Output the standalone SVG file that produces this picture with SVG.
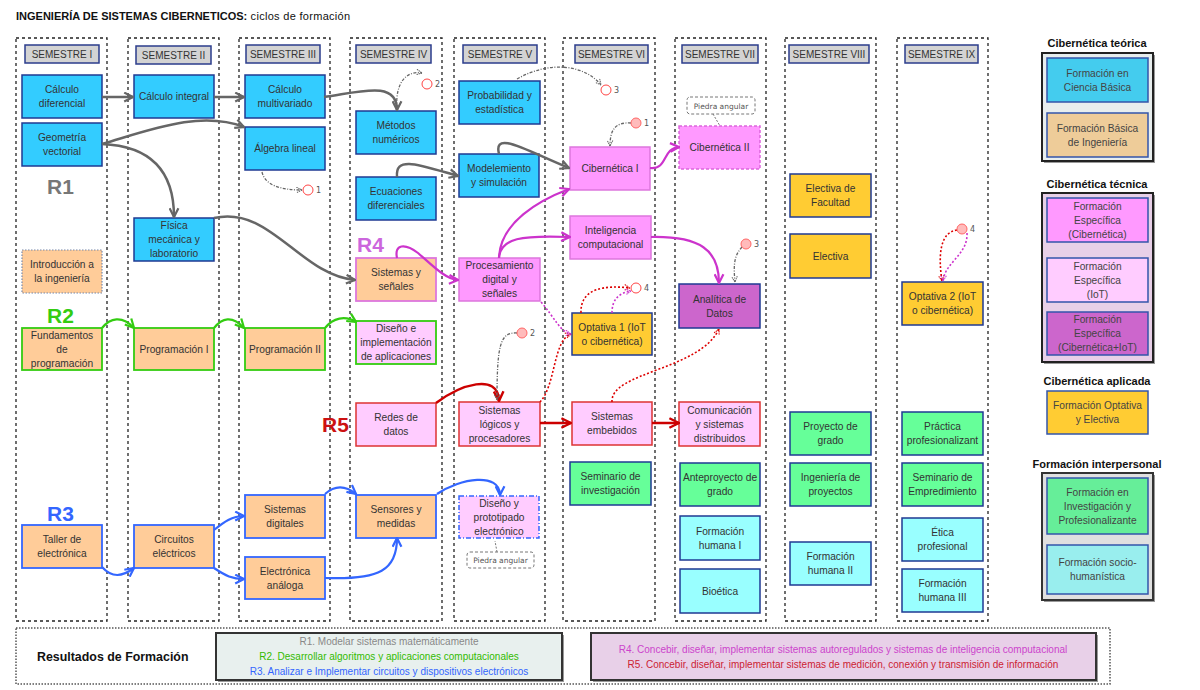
<svg xmlns="http://www.w3.org/2000/svg" width="1200" height="690" viewBox="0 0 1200 690">
<defs>
<style>
.col{fill:none;stroke:#222;stroke-width:1.3;stroke-dasharray:3 3}
.hdr{fill:#d3d3d3;stroke:#2b3d8c;stroke-width:1.5}
.t{font-family:"Liberation Sans",Arial,sans-serif;font-size:10.2px;fill:#333;text-anchor:middle}
.ht{font-family:"Liberation Sans",Arial,sans-serif;font-size:10px;fill:#333;text-anchor:middle}
.cy{fill:#33ccff;stroke:#1f3a93;stroke-width:1.5}
.mg{fill:#ff99ff;stroke:#dd77dd;stroke-width:1.5}
.lp{fill:#ffccff;stroke:#dd3333;stroke-width:1.5}
.pu{fill:#cc66cc;stroke:#1f3a93;stroke-width:1.5}
.ye{fill:#ffcc33;stroke:#1f3a93;stroke-width:1.5}
.gr{fill:#66ff99;stroke:#1f3a93;stroke-width:1.5}
.lc{fill:#99ffff;stroke:#1f3a93;stroke-width:1.5}
.R{font-family:"Liberation Sans",Arial,sans-serif;font-size:21px;font-weight:bold}
.cg{fill:none;stroke:#666;stroke-width:2.5}
.cgr{fill:none;stroke:#33cc11;stroke-width:2.2}
.cb{fill:none;stroke:#3366ff;stroke-width:2.2}
.cm{fill:none;stroke:#cc33cc;stroke-width:2.2}
.cr{fill:none;stroke:#cc0000;stroke-width:2.5}
.dg{fill:none;stroke:#666;stroke-width:1.3;stroke-dasharray:3 1.5 1 1.5}
.dr{fill:none;stroke:#dd0000;stroke-width:1.6;stroke-dasharray:2 2}
.dm{fill:none;stroke:#cc33cc;stroke-width:1.6;stroke-dasharray:2 2}
.ch{fill:#fff;stroke:#ff4444;stroke-width:1}
.cf{fill:#ffbbbb;stroke:#ff6666;stroke-width:1}
.cn{font-family:"DejaVu Sans",sans-serif;font-size:8px;fill:#555}
.call{fill:#fff;stroke:#777;stroke-width:1;stroke-dasharray:3 2}
.callt{font-family:"DejaVu Sans",sans-serif;font-size:7.5px;fill:#555;text-anchor:middle}
.lt{font-family:"Liberation Sans",Arial,sans-serif;font-size:11px;font-weight:bold;fill:#111;text-anchor:middle}
.lg{font-family:"Liberation Sans",Arial,sans-serif;font-size:10.2px;fill:#444;text-anchor:middle}
.lb{stroke:#3355aa;stroke-width:1.5}
</style>
<marker id="ag" viewBox="0 0 10 10" refX="9" refY="5" markerWidth="11" markerHeight="11" markerUnits="userSpaceOnUse" orient="auto"><path d="M1,1 L9,5 L1,9" fill="none" stroke="#666" stroke-width="2"/></marker>
<marker id="agr" viewBox="0 0 10 10" refX="9" refY="5" markerWidth="11" markerHeight="11" markerUnits="userSpaceOnUse" orient="auto"><path d="M1,1 L9,5 L1,9" fill="none" stroke="#33cc11" stroke-width="2"/></marker>
<marker id="ab" viewBox="0 0 10 10" refX="9" refY="5" markerWidth="11" markerHeight="11" markerUnits="userSpaceOnUse" orient="auto"><path d="M1,1 L9,5 L1,9" fill="none" stroke="#3366ff" stroke-width="2"/></marker>
<marker id="am" viewBox="0 0 10 10" refX="9" refY="5" markerWidth="11" markerHeight="11" markerUnits="userSpaceOnUse" orient="auto"><path d="M1,1 L9,5 L1,9" fill="none" stroke="#cc33cc" stroke-width="2"/></marker>
<marker id="ar" viewBox="0 0 10 10" refX="9" refY="5" markerWidth="12" markerHeight="12" markerUnits="userSpaceOnUse" orient="auto"><path d="M1,1 L9,5 L1,9" fill="none" stroke="#cc0000" stroke-width="2"/></marker>
<marker id="sg" viewBox="0 0 10 10" refX="9" refY="5" markerWidth="7" markerHeight="7" markerUnits="userSpaceOnUse" orient="auto"><path d="M1,1 L9,5 L1,9" fill="none" stroke="#666" stroke-width="1.5" stroke-dasharray="2 1"/></marker>
<marker id="sr" viewBox="0 0 10 10" refX="9" refY="5" markerWidth="7" markerHeight="7" markerUnits="userSpaceOnUse" orient="auto"><path d="M1,1 L9,5 L1,9" fill="none" stroke="#dd0000" stroke-width="1.5" stroke-dasharray="2 1"/></marker>
<marker id="sm" viewBox="0 0 10 10" refX="9" refY="5" markerWidth="7" markerHeight="7" markerUnits="userSpaceOnUse" orient="auto"><path d="M1,1 L9,5 L1,9" fill="none" stroke="#cc33cc" stroke-width="1.5" stroke-dasharray="2 1"/></marker>
</defs>
<rect width="1200" height="690" fill="#fff"/>
<text x="16" y="19.5" font-family="Liberation Sans, Arial, sans-serif" font-size="11" font-weight="bold" fill="#111">INGENIERÍA DE SISTEMAS CIBERNETICOS:<tspan font-weight="normal" letter-spacing="0.3"> ciclos de formación</tspan></text>

<g id="columns">
<rect class="col" x="16" y="38" width="91" height="583"/>
<rect class="col" x="128" y="38" width="91" height="583"/>
<rect class="col" x="239" y="38" width="91" height="583"/>
<rect class="col" x="350" y="38" width="92" height="583"/>
<rect class="col" x="454" y="38" width="91" height="583"/>
<rect class="col" x="563" y="38" width="92" height="583"/>
<rect class="col" x="675" y="38" width="91" height="583"/>
<rect class="col" x="785" y="38" width="91" height="583"/>
<rect class="col" x="897" y="38" width="91" height="583"/>
<rect class="hdr" x="25" y="45" width="74" height="18"/><text class="ht" x="62" y="57.5">SEMESTRE I</text>
<rect class="hdr" x="136" y="46" width="75" height="18"/><text class="ht" x="173.5" y="58.5">SEMESTRE II</text>
<rect class="hdr" x="246" y="45" width="74" height="18"/><text class="ht" x="283" y="57.5">SEMESTRE III</text>
<rect class="hdr" x="356" y="45" width="75" height="18"/><text class="ht" x="393.5" y="57.5">SEMESTRE IV</text>
<rect class="hdr" x="463" y="45" width="74" height="18"/><text class="ht" x="500" y="57.5">SEMESTRE V</text>
<rect class="hdr" x="575" y="45" width="73" height="18"/><text class="ht" x="611.5" y="57.5">SEMESTRE VI</text>
<rect class="hdr" x="682" y="45" width="76" height="18"/><text class="ht" x="720" y="57.5">SEMESTRE VII</text>
<rect class="hdr" x="789" y="45" width="80" height="18"/><text class="ht" x="829" y="57.5">SEMESTRE VIII</text>
<rect class="hdr" x="905" y="45" width="73" height="18"/><text class="ht" x="941.5" y="57.5">SEMESTRE IX</text>
</g>

<g id="rlabels">
<text class="R" x="47" y="194" fill="#777">R1</text>
<text class="R" x="47" y="323" fill="#33cc11">R2</text>
<text class="R" x="47" y="521" fill="#3366ff">R3</text>
<text class="R" x="357" y="252" fill="#cc66dd">R4</text>
<text class="R" x="322" y="432" fill="#cc1111">R5</text>
</g>

<g id="callout_v"><path d="M497,552 L495,541" stroke="#777" stroke-width="1" stroke-dasharray="2 1.5" fill="none"/><rect class="call" x="467" y="552" width="67" height="16" rx="3"/><text class="callt" x="500.5" y="563">Piedra angular</text></g>
<g id="callout_vii"><path d="M713,114 L720,126" stroke="#777" stroke-width="1" stroke-dasharray="2 1.5" fill="none"/><rect class="call" x="687" y="97" width="68" height="17" rx="3"/><text class="callt" x="721" y="108.5">Piedra angular</text></g>

<g id="calculo_diferencial"><rect class="cy" x="22" y="75" width="80" height="43"/><text class="t"><tspan x="62" y="93">Cálculo</tspan><tspan x="62" y="107">diferencial</tspan></text></g>
<g id="geometria_vectorial"><rect class="cy" x="22" y="123" width="80" height="43"/><text class="t"><tspan x="62" y="141">Geometría</tspan><tspan x="62" y="155">vectorial</tspan></text></g>
<g id="introduccion"><rect x="22" y="250" width="80" height="43" fill="#ffcc99" stroke="#7788aa" stroke-width="1.2" stroke-dasharray="1.5 1.5"/><text class="t"><tspan x="62" y="268">Introducción a</tspan><tspan x="62" y="282">la ingeniería</tspan></text></g>
<g id="fundamentos"><rect x="22" y="328" width="80" height="42" fill="#ffcc99" stroke="#33cc11" stroke-width="1.8"/><text class="t"><tspan x="62" y="338.5">Fundamentos</tspan><tspan x="62" y="352.5">de</tspan><tspan x="62" y="366.5">programación</tspan></text></g>
<g id="taller"><rect x="22" y="525" width="80" height="43" fill="#ffcc99" stroke="#3366ff" stroke-width="1.8"/><text class="t"><tspan x="62" y="543">Taller de</tspan><tspan x="62" y="557">electrónica</tspan></text></g>

<g id="calculo_integral"><rect class="cy" x="134" y="75" width="80" height="43"/><text class="t" x="174" y="100">Cálculo integral</text></g>
<g id="fisica"><rect class="cy" x="134" y="218" width="80" height="43"/><text class="t"><tspan x="174" y="229">Física</tspan><tspan x="174" y="243">mecánica y</tspan><tspan x="174" y="257">laboratorio</tspan></text></g>
<g id="programacion1"><rect x="134" y="328" width="80" height="42" fill="#ffcc99" stroke="#33cc11" stroke-width="1.8"/><text class="t" x="174" y="352.5">Programación I</text></g>
<g id="circuitos"><rect x="134" y="525" width="80" height="43" fill="#ffcc99" stroke="#3366ff" stroke-width="1.8"/><text class="t"><tspan x="174" y="543">Circuitos</tspan><tspan x="174" y="557">eléctricos</tspan></text></g>

<g id="calculo_multivariado"><rect class="cy" x="245" y="75" width="80" height="43"/><text class="t"><tspan x="285" y="93">Cálculo</tspan><tspan x="285" y="107">multivariado</tspan></text></g>
<g id="algebra"><rect class="cy" x="245" y="127" width="80" height="43"/><text class="t" x="285" y="152">Álgebra lineal</text></g>
<g id="programacion2"><rect x="245" y="328" width="80" height="42" fill="#ffcc99" stroke="#33cc11" stroke-width="1.8"/><text class="t" x="285" y="352.5">Programación II</text></g>
<g id="sistemas_digitales"><rect x="245" y="495" width="80" height="43" fill="#ffcc99" stroke="#3366ff" stroke-width="1.8"/><text class="t"><tspan x="285" y="513">Sistemas</tspan><tspan x="285" y="527">digitales</tspan></text></g>
<g id="electronica_analoga"><rect x="245" y="557" width="80" height="42" fill="#ffcc99" stroke="#3366ff" stroke-width="1.8"/><text class="t"><tspan x="285" y="574.5">Electrónica</tspan><tspan x="285" y="588.5">análoga</tspan></text></g>

<g id="metodos"><rect class="cy" x="356" y="111" width="80" height="43"/><text class="t"><tspan x="396" y="129">Métodos</tspan><tspan x="396" y="143">numéricos</tspan></text></g>
<g id="ecuaciones"><rect class="cy" x="356" y="177" width="80" height="43"/><text class="t"><tspan x="396" y="195">Ecuaciones</tspan><tspan x="396" y="209">diferenciales</tspan></text></g>
<g id="sistemas_senales"><rect x="356" y="258" width="80" height="43" fill="#ffcc99" stroke="#dd77dd" stroke-width="1.8"/><text class="t"><tspan x="396" y="276">Sistemas y</tspan><tspan x="396" y="290">señales</tspan></text></g>
<g id="diseno_aplicaciones"><rect x="356" y="321" width="80" height="43" fill="#ffccff" stroke="#33cc11" stroke-width="1.8"/><text class="t"><tspan x="396" y="332">Diseño e</tspan><tspan x="396" y="346">implementación</tspan><tspan x="396" y="360">de aplicaciones</tspan></text></g>
<g id="redes"><rect class="lp" x="356" y="403" width="80" height="43"/><text class="t"><tspan x="396" y="421">Redes de</tspan><tspan x="396" y="435">datos</tspan></text></g>
<g id="sensores"><rect x="356" y="495" width="80" height="43" fill="#ffcc99" stroke="#3366ff" stroke-width="1.8"/><text class="t"><tspan x="396" y="513">Sensores y</tspan><tspan x="396" y="527">medidas</tspan></text></g>

<g id="probabilidad"><rect class="cy" x="459" y="81" width="81" height="43"/><text class="t"><tspan x="499.5" y="99">Probabilidad y</tspan><tspan x="499.5" y="113">estadística</tspan></text></g>
<g id="modelamiento"><rect class="cy" x="459" y="154" width="80" height="43"/><text class="t"><tspan x="499" y="172">Modelemiento</tspan><tspan x="499" y="186">y simulación</tspan></text></g>
<g id="procesamiento"><rect class="mg" x="459" y="258" width="81" height="43"/><text class="t"><tspan x="499.5" y="269">Procesamiento</tspan><tspan x="499.5" y="283">digital y</tspan><tspan x="499.5" y="297">señales</tspan></text></g>
<g id="sistemas_logicos"><rect class="lp" x="459" y="402" width="81" height="44"/><text class="t"><tspan x="499.5" y="413.5">Sistemas</tspan><tspan x="499.5" y="427.5">lógicos y</tspan><tspan x="499.5" y="441.5">procesadores</tspan></text></g>
<g id="diseno_prototipado"><rect x="459" y="496" width="80" height="42" fill="#ffccff" stroke="#3366ff" stroke-width="1.5" stroke-dasharray="5 2 1 2"/><text class="t"><tspan x="499" y="506.5">Diseño y</tspan><tspan x="499" y="520.5">prototipado</tspan><tspan x="499" y="534.5">electrónico</tspan></text></g>

<g id="cibernetica1"><rect class="mg" x="570" y="147" width="80" height="43"/><text class="t" x="610" y="172">Cibernética I</text></g>
<g id="inteligencia"><rect class="mg" x="570" y="216" width="81" height="43"/><text class="t"><tspan x="610.5" y="234">Inteligencia</tspan><tspan x="610.5" y="248">computacional</tspan></text></g>
<g id="optativa1"><rect class="ye" x="572" y="313" width="80" height="42"/><text class="t"><tspan x="612" y="330.5">Optativa 1 (IoT</tspan><tspan x="612" y="344.5">o cibernética)</tspan></text></g>
<g id="sistemas_embebidos"><rect class="lp" x="572" y="402" width="80" height="43"/><text class="t"><tspan x="612" y="420">Sistemas</tspan><tspan x="612" y="434">embebidos</tspan></text></g>
<g id="seminario_investigacion"><rect class="gr" x="570" y="462" width="81" height="43"/><text class="t"><tspan x="610.5" y="480">Seminario de</tspan><tspan x="610.5" y="494">investigación</tspan></text></g>

<g id="cibernetica2"><rect x="679" y="126" width="81" height="43" fill="#ff99ff" stroke="#dd66dd" stroke-width="1.5" stroke-dasharray="3 2"/><text class="t" x="719.5" y="151">Cibernética II</text></g>
<g id="analitica"><rect class="pu" x="679" y="284" width="81" height="44"/><text class="t"><tspan x="719.5" y="302.5">Analítica de</tspan><tspan x="719.5" y="316.5">Datos</tspan></text></g>
<g id="comunicacion"><rect class="lp" x="679" y="402" width="81" height="44"/><text class="t"><tspan x="719.5" y="413.5">Comunicación</tspan><tspan x="719.5" y="427.5">y sistemas</tspan><tspan x="719.5" y="441.5">distribuidos</tspan></text></g>
<g id="anteproyecto"><rect class="gr" x="680" y="463" width="80" height="43"/><text class="t"><tspan x="720" y="481">Anteproyecto de</tspan><tspan x="720" y="495">grado</tspan></text></g>
<g id="formacion_humana1"><rect class="lc" x="680" y="516" width="80" height="44"/><text class="t"><tspan x="720" y="534.5">Formación</tspan><tspan x="720" y="548.5">humana I</tspan></text></g>
<g id="bioetica"><rect class="lc" x="680" y="569" width="80" height="44"/><text class="t" x="720" y="594.5">Bioética</text></g>

<g id="electiva_facultad"><rect class="ye" x="790" y="174" width="81" height="43"/><text class="t"><tspan x="830.5" y="192">Electiva de</tspan><tspan x="830.5" y="206">Facultad</tspan></text></g>
<g id="electiva"><rect class="ye" x="790" y="234" width="81" height="44"/><text class="t" x="830.5" y="259.5">Electiva</text></g>
<g id="proyecto_grado"><rect class="gr" x="790" y="412" width="81" height="43"/><text class="t"><tspan x="830.5" y="430">Proyecto de</tspan><tspan x="830.5" y="444">grado</tspan></text></g>
<g id="ingenieria_proyectos"><rect class="gr" x="790" y="463" width="81" height="43"/><text class="t"><tspan x="830.5" y="481">Ingeniería de</tspan><tspan x="830.5" y="495">proyectos</tspan></text></g>
<g id="formacion_humana2"><rect class="lc" x="790" y="542" width="81" height="43"/><text class="t"><tspan x="830.5" y="560">Formación</tspan><tspan x="830.5" y="574">humana II</tspan></text></g>

<g id="optativa2"><rect class="ye" x="902" y="282" width="81" height="43"/><text class="t"><tspan x="942.5" y="300">Optativa 2 (IoT</tspan><tspan x="942.5" y="314">o cibernética)</tspan></text></g>
<g id="practica"><rect class="gr" x="902" y="412" width="81" height="43"/><text class="t"><tspan x="942.5" y="430">Práctica</tspan><tspan x="942.5" y="444">profesionalizant</tspan></text></g>
<g id="seminario_emprendimiento"><rect class="gr" x="902" y="463" width="81" height="43"/><text class="t"><tspan x="942.5" y="481">Seminario de</tspan><tspan x="942.5" y="495">Empredimiento</tspan></text></g>
<g id="etica"><rect class="lc" x="902" y="518" width="81" height="43"/><text class="t"><tspan x="942.5" y="536">Ética</tspan><tspan x="942.5" y="550">profesional</tspan></text></g>
<g id="formacion_humana3"><rect class="lc" x="902" y="569" width="81" height="43"/><text class="t"><tspan x="942.5" y="587">Formación</tspan><tspan x="942.5" y="601">humana III</tspan></text></g>

<g id="connectors">
<path class="cg" d="M102,97 L133,97" marker-end="url(#ag)"/>
<path class="cg" d="M214,97 L244,97" marker-end="url(#ag)"/>
<path class="cg" d="M102,144 C150,130 200,110 244,127" marker-end="url(#ag)"/>
<path class="cg" d="M102,144 C150,146 174,170 174,217" marker-end="url(#ag)"/>
<path class="cg" d="M324,97 C360,92 397,80 397,110" marker-end="url(#ag)"/>
<path class="cg" d="M214,218 C270,205 300,275 355,280" marker-end="url(#ag)"/>
<path class="cg" d="M397,177 C395,155 420,165 458,176" marker-end="url(#ag)"/>
<path class="cg" d="M499,154 C493,130 525,150 569,168" marker-end="url(#ag)"/>
<path class="cgr" d="M102,328 C110,318 122,315 134,328" marker-end="url(#agr)"/>
<path class="cgr" d="M214,328 C222,318 232,315 244,328" marker-end="url(#agr)"/>
<path class="cgr" d="M325,328 C333,318 345,315 356,322" marker-end="url(#agr)"/>
<path class="cb" d="M102,567 C112,578 122,577 134,568" marker-end="url(#ab)"/>
<path class="cb" d="M214,530 C224,522 232,516 244,516" marker-end="url(#ab)"/>
<path class="cb" d="M214,568 C226,576 232,579 244,579" marker-end="url(#ab)"/>
<path class="cb" d="M325,494 C335,485 345,485 356,494" marker-end="url(#ab)"/>
<path class="cb" d="M325,578 C380,580 397,570 397,538" marker-end="url(#ab)"/>
<path class="cb" d="M437,494 C460,478 500,472 500,495" marker-end="url(#ab)"/>
<path class="cm" d="M397,258 C394,244 405,243 418,253 C432,265 445,279 458,280" marker-end="url(#am)"/>
<path class="cm" d="M499,258 C500,222 540,200 569,189" marker-end="url(#am)"/>
<path class="cm" d="M499,258 C500,238 522,235 570,237" marker-end="url(#am)"/>
<path class="cm" d="M650,168 C668,170 662,148 679,147" marker-end="url(#am)"/>
<path class="cm" d="M651,237 C700,236 719,250 719,283" marker-end="url(#am)"/>
<path class="cr" d="M436,403 C460,385 498,372 499,401" marker-end="url(#ar)"/>
<path class="cr" d="M540,423 L571,423" marker-end="url(#ar)"/>
<path class="cr" d="M652,423 L679,423" marker-end="url(#ar)"/>
<path class="dg" d="M262,172 C265,185 280,190 302,190" marker-end="url(#sg)"/>
<path class="dg" d="M397,108 C395,85 405,70 422,73" marker-end="url(#sg)"/>
<path class="dg" d="M517,79 C550,60 585,65 601,85" marker-end="url(#sg)"/>
<path class="dg" d="M631,123 C615,122 610,130 610,146" marker-end="url(#sg)"/>
<path class="dg" d="M517,333 C500,332 497,345 497,400" marker-end="url(#sg)"/>
<path class="dg" d="M742,247 C735,255 733,262 735,282" marker-end="url(#sg)"/>
<path class="dr" d="M540,402 C556,385 553,340 571,334" marker-end="url(#sr)"/>
<path class="dr" d="M581,313 C580,288 605,285 630,288" marker-end="url(#sr)"/>
<path class="dr" d="M612,402 C610,372 700,370 719,329" marker-end="url(#sr)"/>
<path class="dr" d="M957,230 C940,232 938,255 942,281" marker-end="url(#sr)"/>
<path class="dm" d="M541,302 C555,318 560,332 571,334" marker-end="url(#sm)"/>
<path class="dm" d="M612,313 C612,298 620,293 631,291" marker-end="url(#sm)"/>
<path class="dm" d="M967,233 C968,255 945,262 943,281" marker-end="url(#sm)"/>
</g>

<g id="annotations">
<circle class="ch" cx="308" cy="190" r="5"/><text class="cn" x="316" y="193">1</text>
<circle class="ch" cx="427" cy="84" r="5"/><text class="cn" x="435" y="87">2</text>
<circle class="ch" cx="606" cy="90" r="5"/><text class="cn" x="614" y="93">3</text>
<circle class="cf" cx="636" cy="123" r="5"/><text class="cn" x="644" y="126">1</text>
<circle class="ch" cx="636" cy="288" r="5"/><text class="cn" x="644" y="291">4</text>
<circle class="cf" cx="522" cy="333" r="5"/><text class="cn" x="530" y="336">2</text>
<circle class="cf" cx="746" cy="244" r="5"/><text class="cn" x="754" y="247">3</text>
<circle class="cf" cx="962" cy="229" r="5"/><text class="cn" x="970" y="232">4</text>
</g>

<g id="legend_teorica">
<text class="lt" x="1097" y="47">Cibernética teórica</text>
<rect x="1044" y="55" width="111" height="108" fill="#999"/>
<rect x="1042" y="53" width="111" height="108" fill="#e8eeee" stroke="#222" stroke-width="2"/>
<rect class="lb" x="1047" y="58" width="101" height="44" fill="#44ccee"/><text class="lg"><tspan x="1097.5" y="76.5">Formación en</tspan><tspan x="1097.5" y="90.5">Ciencia Básica</tspan></text>
<rect class="lb" x="1047" y="113" width="101" height="44" fill="#eecc99"/><text class="lg"><tspan x="1097.5" y="131.5">Formación Básica</tspan><tspan x="1097.5" y="145.5">de Ingeniería</tspan></text>
</g>
<g id="legend_tecnica">
<text class="lt" x="1097" y="188">Cibernética técnica</text>
<rect x="1044" y="195" width="111" height="169" fill="#999"/>
<rect x="1042" y="193" width="111" height="169" fill="#e8d0e8" stroke="#222" stroke-width="2"/>
<rect class="lb" x="1047" y="198" width="101" height="44" fill="#ff99ff"/><text class="lg"><tspan x="1097.5" y="209.5">Formación</tspan><tspan x="1097.5" y="223.5">Específica</tspan><tspan x="1097.5" y="237.5">(Cibernética)</tspan></text>
<rect class="lb" x="1047" y="258" width="101" height="44" fill="#ffccff"/><text class="lg"><tspan x="1097.5" y="269.5">Formación</tspan><tspan x="1097.5" y="283.5">Específica</tspan><tspan x="1097.5" y="297.5">(IoT)</tspan></text>
<rect class="lb" x="1047" y="312" width="101" height="43" fill="#cc66cc"/><text class="lg"><tspan x="1097.5" y="323">Formación</tspan><tspan x="1097.5" y="337">Específica</tspan><tspan x="1097.5" y="351">(Cibernética+IoT)</tspan></text>
</g>
<g id="legend_aplicada">
<text class="lt" x="1097" y="385">Cibernética aplicada</text>
<rect class="lb" x="1047" y="391" width="101" height="43" fill="#ffcc33"/><text class="lg"><tspan x="1097.5" y="409">Formación Optativa</tspan><tspan x="1097.5" y="423">y Electiva</tspan></text>
</g>
<g id="legend_interpersonal">
<text class="lt" x="1097" y="468">Formación interpersonal</text>
<rect x="1044" y="475" width="111" height="127" fill="#999"/>
<rect x="1042" y="473" width="111" height="127" fill="#e0e0e0" stroke="#333" stroke-width="2"/>
<rect class="lb" x="1047" y="478" width="101" height="56" fill="#66ee99"/><text class="lg"><tspan x="1097.5" y="495.5">Formación en</tspan><tspan x="1097.5" y="509.5">Investigación y</tspan><tspan x="1097.5" y="523.5">Profesionalizante</tspan></text>
<rect class="lb" x="1047" y="545" width="101" height="49" fill="#99eeee"/><text class="lg"><tspan x="1097.5" y="566">Formación socio-</tspan><tspan x="1097.5" y="580">humanística</tspan></text>
</g>

<g id="resultados">
<rect x="16" y="628" width="1094" height="56" fill="none" stroke="#555" stroke-width="1.5" stroke-dasharray="1.5 1.5"/>
<text x="37" y="661" font-family="Liberation Sans, Arial, sans-serif" font-size="12.4" font-weight="bold" fill="#111">Resultados de Formación</text>
<rect x="218" y="635" width="346" height="47" fill="#999"/>
<rect x="216" y="633" width="346" height="47" fill="#e8f0ee" stroke="#333" stroke-width="2"/>
<text class="ht" x="389" y="645" style="fill:#888">R1. Modelar sistemas matemáticamente</text>
<text class="ht" x="389" y="660" style="fill:#33bb00">R2. Desarrollar algoritmos y aplicaciones computacionales</text>
<text class="ht" x="389" y="675" style="fill:#3366ff">R3. Analizar e Implementar circuitos y dispositivos electrónicos</text>
<rect x="593" y="635" width="505" height="47" fill="#999"/>
<rect x="591" y="633" width="505" height="47" fill="#e8d0e8" stroke="#333" stroke-width="2"/>
<text class="ht" x="843" y="652.5" style="fill:#cc44cc">R4. Concebir, diseñar, implementar sistemas autoregulados y sistemas de inteligencia computacional</text>
<text class="ht" x="843" y="667.5" style="fill:#cc2233">R5. Concebir, diseñar, implementar sistemas de medición, conexión y transmisión de información</text>
</g>
</svg>
